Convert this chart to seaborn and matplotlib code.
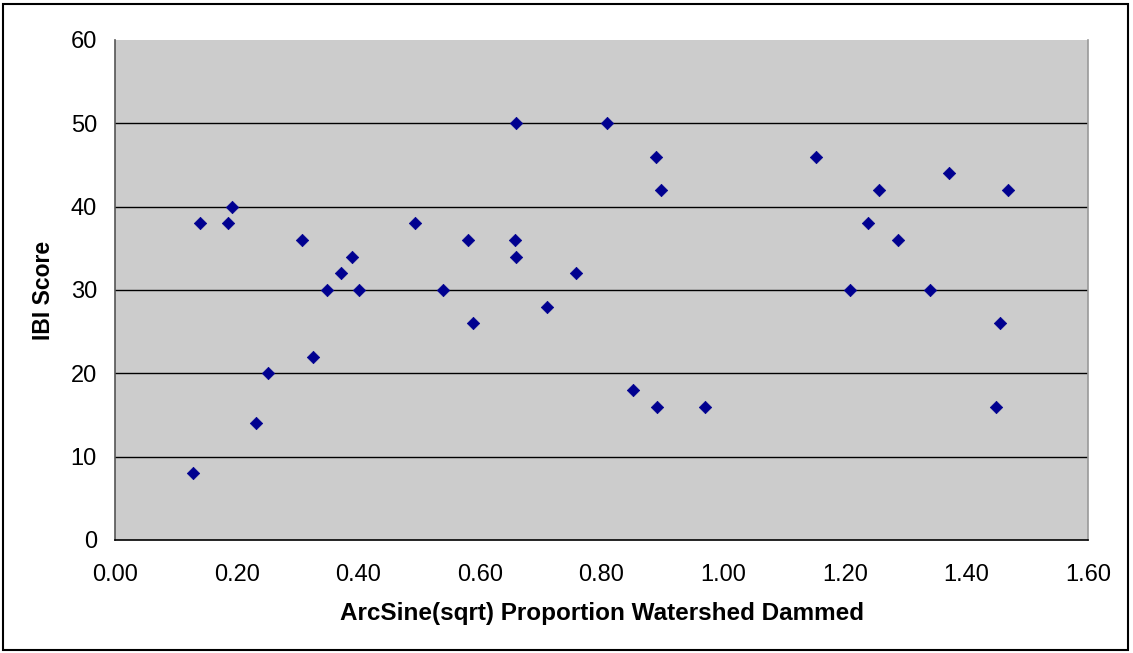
import matplotlib
matplotlib.use("Agg")
import matplotlib.pyplot as plt
import seaborn as sns
import pandas as pd
from matplotlib.patches import Rectangle

x_vals = [0.128, 0.140, 0.186, 0.193, 0.232, 0.252, 0.308, 0.326, 0.348, 0.372,
          0.390, 0.402, 0.494, 0.539, 0.580, 0.588, 0.657, 0.659, 0.659, 0.710,
          0.758, 0.809, 0.852, 0.890, 0.891, 0.898, 0.970, 1.153, 1.209, 1.239,
          1.257, 1.288, 1.341, 1.372, 1.448, 1.455, 1.468]
ibi_vals = [8, 38, 38, 40, 14, 20, 36, 22, 30, 32,
            34, 30, 38, 30, 36, 26, 36, 50, 34, 28,
            32, 50, 18, 46, 16, 42, 16, 46, 30, 38,
            42, 36, 30, 44, 16, 26, 42]
x_ticks = [0.0, 0.2, 0.4, 0.6, 0.8, 1.0, 1.2, 1.4, 1.6]
y_ticks = [0, 10, 20, 30, 40, 50, 60]

df = pd.DataFrame({"x": x_vals, "y": ibi_vals})

sns.set_style("white")
plt.rcParams['font.family'] = ['Liberation Sans', 'DejaVu Sans']
plt.rcParams['text.color'] = 'black'
plt.rcParams['axes.labelcolor'] = 'black'
plt.rcParams['xtick.color'] = 'black'
plt.rcParams['ytick.color'] = 'black'

W, H = 1133, 653
fig = plt.figure(figsize=(W / 100, H / 100), dpi=100)
ax = fig.add_axes([115 / W, 113 / H, (1088 - 115) / W, 500 / H])
ax.set_facecolor("#CCCCCC")

sns.scatterplot(data=df, x="x", y="y", ax=ax, marker="D", s=40,
                color="#000090", edgecolor="#000090", linewidth=0.5, zorder=3)

ax.set_xlim(0, 1.6)
ax.set_ylim(0, 60)
ax.set_xticks(x_ticks)
ax.set_xticklabels([f"{t:.2f}" for t in x_ticks], fontsize=17)
ax.set_yticks(y_ticks)
ax.set_yticklabels([str(t) for t in y_ticks], fontsize=17)
for yv in y_ticks[1:-1]:
    ax.axhline(yv, color="black", linewidth=1.0, zorder=1)
ax.tick_params(axis="both", direction="out", length=6, width=1, pad=5)
ax.tick_params(axis="x", pad=11, color="#555555")
ax.tick_params(axis="y", pad=7, color="#555555")
ax.spines["top"].set_visible(False)
ax.spines["right"].set_color("#999999")
ax.spines["left"].set_color("#555555")
ax.spines["bottom"].set_color("black")
for sp in ax.spines.values():
    sp.set_linewidth(1.2)

ax.set_xlabel("ArcSine(sqrt) Proportion Watershed Dammed", fontsize=17.5,
              fontweight="bold", labelpad=12)
ax.set_ylabel("IBI Score", fontsize=16.5, fontweight="bold", labelpad=11)

fig.patches.append(Rectangle((3 / W, 1 - 650 / H), 1125 / W, 646 / H, transform=fig.transFigure,
                             fill=False, edgecolor="black", linewidth=1.5))

fig.savefig("out.png", dpi=100)
